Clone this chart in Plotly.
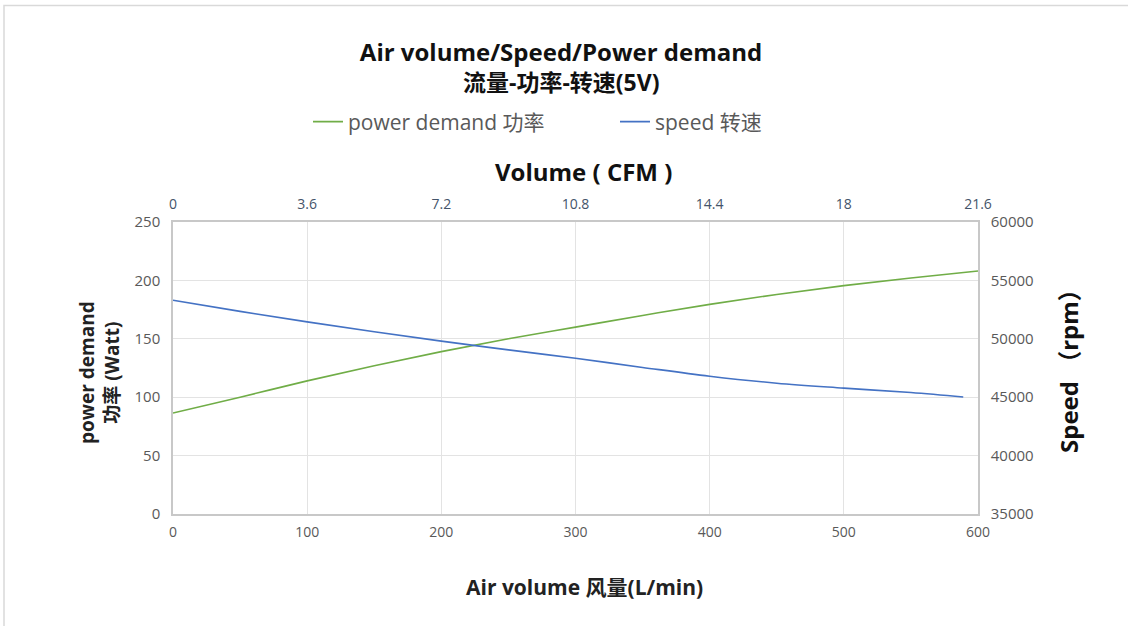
import plotly.graph_objects as go

# Data
air_volume = [0, 50, 100, 150, 200, 250, 300, 350, 400, 450, 500, 550, 600]
power_w = [86.5, 100, 114, 127, 139, 150, 160, 170, 179.5, 188, 195.5, 202, 208]
speed_x = [0, 50, 100, 150, 200, 250, 300, 350, 400, 450, 500, 550, 589]
speed_rpm = [53300, 52350, 51450, 50600, 49800, 49050, 48330, 47550, 46800, 46200, 45780, 45400, 45020]
cfm_ticks = [0, 3.6, 7.2, 10.8, 14.4, 18, 21.6]
cfm_labels = ["0", "3.6", "7.2", "10.8", "14.4", "18", "21.6"]

GREEN = "#70AD47"
BLUE = "#4472C4"
FONT = "Open Sans, Noto Sans CJK SC, sans-serif"

fig = go.Figure()
fig.add_trace(go.Scatter(x=air_volume, y=power_w, mode="lines", name="power demand 功率",
                         line=dict(color=GREEN, width=1.6, shape="spline"), yaxis="y"))
fig.add_trace(go.Scatter(x=speed_x, y=speed_rpm, mode="lines", name="speed 转速",
                         line=dict(color=BLUE, width=1.6, shape="spline"), yaxis="y2"))
# invisible trace to show top CFM axis
fig.add_trace(go.Scatter(x=cfm_ticks, y=[None] * len(cfm_ticks), xaxis="x2", yaxis="y",
                         mode="lines", showlegend=False, hoverinfo="skip",
                         line=dict(color="rgba(0,0,0,0)")))

grid = "#E3E3E3"
axline = "#C8C8C8"
tickc = "#595959"

W, H = 805.0, 292.0
def px(xp):
    return (xp - 173) / W
def py(yp):
    return (514 - yp) / H

fig.update_layout(
    width=1128, height=626,
    paper_bgcolor="white", plot_bgcolor="white",
    margin=dict(l=173, r=150, t=222, b=112),
    font=dict(family=FONT, color=tickc),
    title=dict(text="<b>Air volume/Speed/Power demand</b>",
               x=px(561), xref="paper", xanchor="center", y=1 - 53 / 626, yanchor="middle",
               font=dict(size=24, color="#111111", family=FONT)),
    showlegend=True,
    legend=dict(orientation="h", x=px(308), xanchor="left", xref="paper",
                y=py(122), yanchor="middle", font=dict(size=21, color="#595959"),
                itemwidth=30, tracegroupgap=0, entrywidthmode="pixels", entrywidth=262),
    xaxis=dict(range=[0, 600], dtick=100, tick0=0, showgrid=True, gridcolor=grid,
               showline=True, linecolor=axline, linewidth=1.5, zeroline=False,
               ticks="", ticklabelstandoff=4, tickfont=dict(size=14, color=tickc)),
    xaxis2=dict(range=[0, 21.6], tickvals=cfm_ticks, ticktext=cfm_labels,
                overlaying="x", side="top", showgrid=False, showline=True, linecolor=axline,
                linewidth=1.5, zeroline=False, ticks="", ticklabelstandoff=6,
                tickfont=dict(size=14, color="#44546A")),
    yaxis=dict(range=[0, 250], dtick=50, showgrid=True, gridcolor=grid, showline=True,
               linecolor=axline, linewidth=1.5, zeroline=False, ticks="", ticklabelstandoff=8,
               tickfont=dict(size=15, color=tickc)),
    yaxis2=dict(range=[35000, 60000], dtick=5000, tickformat="d", overlaying="y", side="right",
                showgrid=False, showline=True, linecolor=axline, linewidth=1.5,
                zeroline=False, ticks="", ticklabelstandoff=8, tickfont=dict(size=15, color=tickc)),
)

def note(text, xr, yr, size, color="#111111", angle=0):
    fig.add_annotation(text=text, x=px(xr), y=py(yr), xref="paper", yref="paper",
                       xanchor="center", yanchor="middle", showarrow=False, textangle=angle,
                       font=dict(size=size, color=color, family=FONT))

note("<b>流量-功率-转速(5V)</b>", 561, 82, 23)
note("<b>Volume ( CFM )</b>", 583, 171, 24)
note("<b>Air volume 风量(L/min)</b>", 584, 587, 21, "#222222")
note("<b>power demand<br>功率 (Watt)</b>", 99, 373, 19, "#222222", -90)
note("<b>Speed （rpm）</b>", 1068, 365, 24, "#111111", -90)

# outer chart border
fig.add_shape(type="rect", xref="paper", yref="paper", x0=px(4), x1=px(1140), y0=py(640), y1=py(5.5),
              line=dict(color="#D9D9D9", width=1.5), fillcolor="rgba(0,0,0,0)", layer="below")

fig.write_html("out.html", config={"displayModeBar": False},
               post_script="document.body.style.margin='0';")
